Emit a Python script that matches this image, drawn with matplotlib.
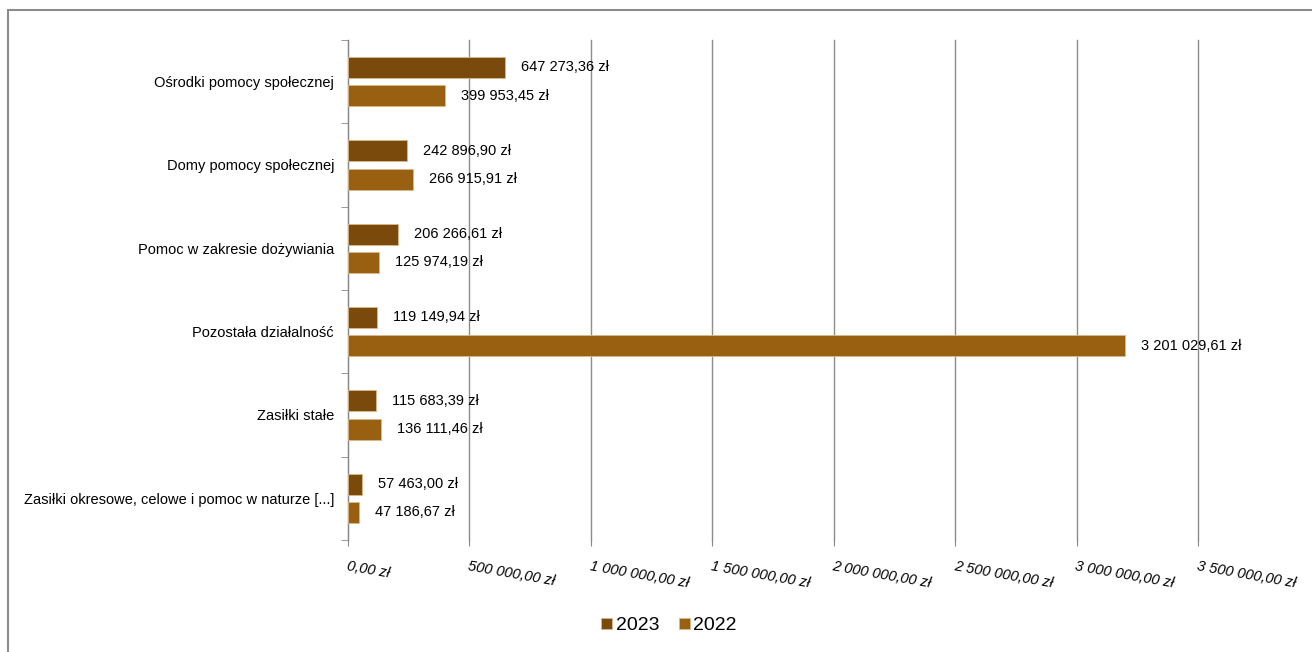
import numpy as np
import matplotlib.pyplot as plt
from matplotlib.patches import Rectangle
from matplotlib.ticker import FuncFormatter, FixedLocator

plt.rcParams['font.family'] = ['Liberation Sans', 'DejaVu Sans']

categories = ["Ośrodki pomocy społecznej", "Domy pomocy społecznej",
              "Pomoc w zakresie dożywiania", "Pozostała działalność",
              "Zasiłki stałe", "Zasiłki okresowe, celowe i pomoc w naturze [...]"]
values_2023 = [647273.36, 242896.90, 206266.61, 119149.94, 115683.39, 57463.00]
values_2022 = [399953.45, 266915.91, 125974.19, 3201029.61, 136111.46, 47186.67]
x_ticks = [0, 500000, 1000000, 1500000, 2000000, 2500000, 3000000, 3500000]

c2023 = "#7A4A0D"
c2022 = "#9A6012"


def pl_money(v):
    s = f"{v:,.2f}".replace(",", " ").replace(".", ",")
    return s + " zł"


fig = plt.figure(figsize=(13.12, 6.52), dpi=100)
ax = fig.add_axes([0.2652, 0.1718, 0.6479, 0.7669])

y = np.arange(len(categories))
h = 0.25
off = 0.17
b1 = ax.barh(y - off, values_2023, height=h, color=c2023, edgecolor="#D9B98C", linewidth=0.6, label="2023", zorder=3)
b2 = ax.barh(y + off, values_2022, height=h, color=c2022, edgecolor="#D9B98C", linewidth=0.6, label="2022", zorder=3)

for bars, vals in ((b1, values_2023), (b2, values_2022)):
    for bar, v in zip(bars, vals):
        ax.annotate(pl_money(v), (v, bar.get_y() + bar.get_height() / 2),
                    xytext=(11.5, 0), textcoords="offset points",
                    ha="left", va="center", fontsize=10.5, color="black", zorder=4)

ax.set_ylim(len(categories) - 0.5, -0.5)
ax.set_xlim(0, 3500000)
ax.set_yticks(y)
ax.set_yticklabels(categories, fontsize=10.5)
ax.yaxis.set_minor_locator(FixedLocator(np.arange(-0.5, len(categories), 1)))
ax.tick_params(axis="y", which="major", length=0, pad=10)
ax.tick_params(axis="y", which="minor", length=5, color="#888888")

ax.set_xticks(x_ticks)
ax.xaxis.set_major_formatter(FuncFormatter(lambda v, p: pl_money(v)))
ax.tick_params(axis="x", length=4, color="#888888", pad=10)
for lbl in ax.get_xticklabels():
    lbl.set_rotation(-10)
    lbl.set_rotation_mode("anchor")
    lbl.set_ha("left")
    lbl.set_va("top")
    lbl.set_fontstyle("italic")
    lbl.set_fontsize(10.5)

ax.grid(axis="x", color="#8C8C8C", linewidth=1, zorder=0)
for gl in ax.get_xgridlines():
    gl.set_clip_on(False)
for s in ("top", "right", "bottom"):
    ax.spines[s].set_visible(False)
ax.spines["left"].set_color("#888888")

ax.legend(loc="center", bbox_to_anchor=(0.51, 0.04), bbox_transform=fig.transFigure,
          ncol=2, frameon=False, fontsize=14, handlelength=0.55, handleheight=0.55,
          handletextpad=0.2, columnspacing=1.0)

fig.patches.append(Rectangle((8 / 1312, -0.05), 1.1, 1 - 10 / 652 + 0.05,
                             transform=fig.transFigure, fill=False,
                             edgecolor="#8C8C8C", linewidth=1.5))

fig.savefig("out.png", dpi=100)
